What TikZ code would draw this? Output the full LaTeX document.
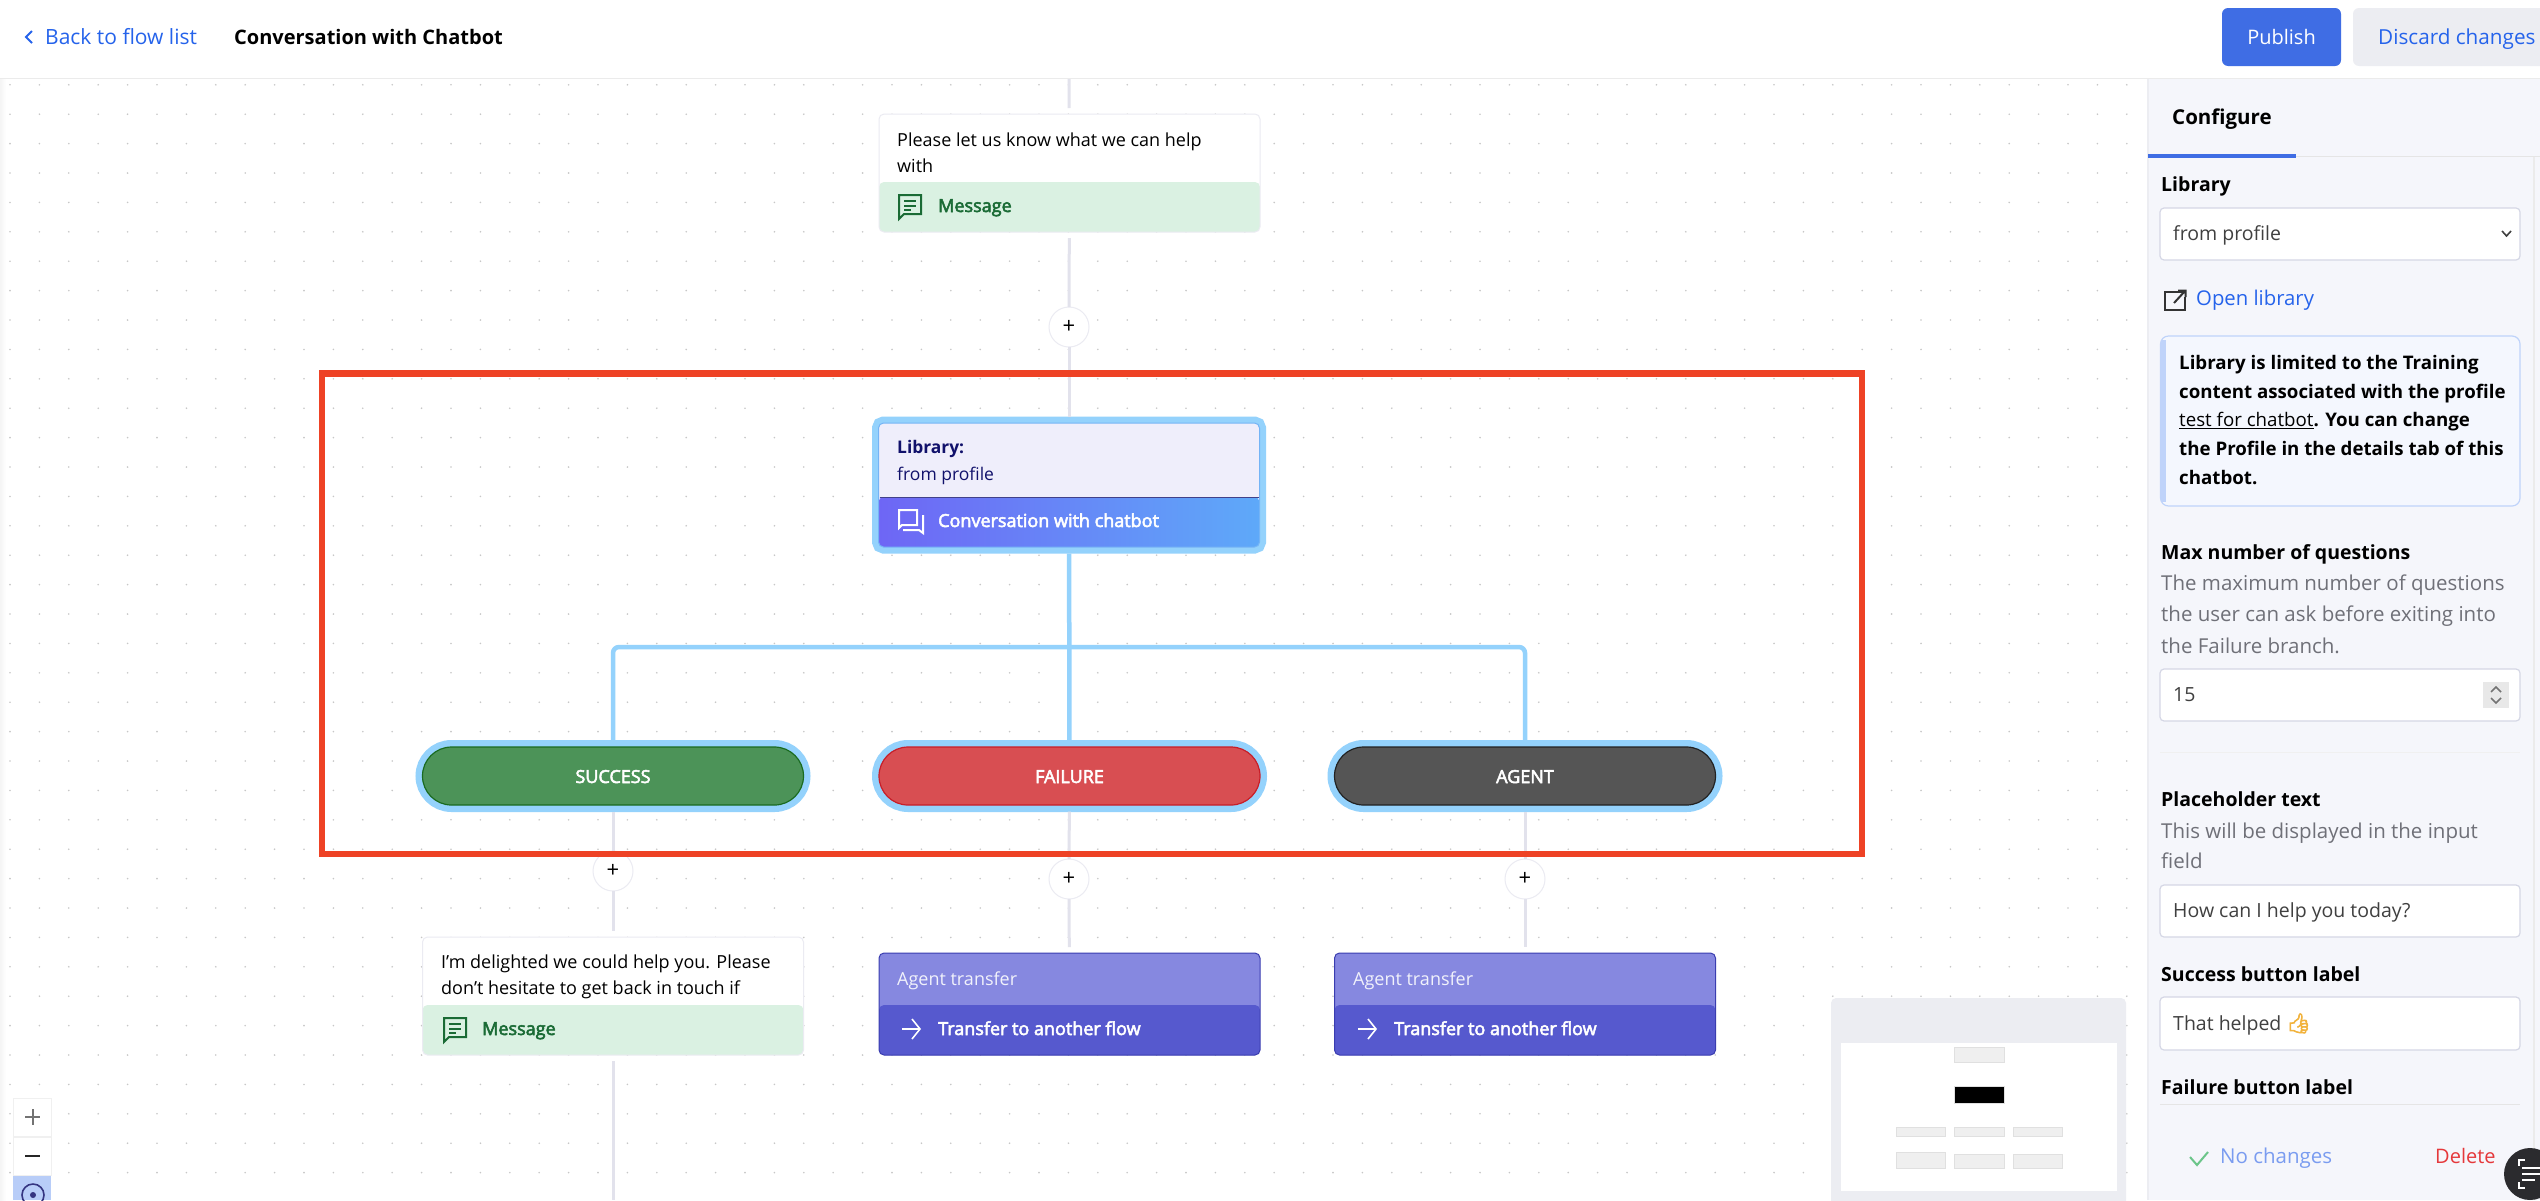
\documentclass[tikz,border=0pt]{standalone}
\usepackage{fontspec}
\setmainfont{Open Sans}
\newfontface\semifont{Open Sans}[FakeBold=3]
\newfontfamily\emojifont{Noto Emoji}[FakeBold=4]

\definecolor{flowgray}{HTML}{E2E2EC}
\definecolor{halo}{HTML}{94D2FC}
\definecolor{linkblue}{HTML}{2563EB}
\definecolor{btnblue}{HTML}{3F6DE4}
\definecolor{btngray}{HTML}{ECEDF2}
\definecolor{panelbg}{HTML}{F5F6FB}
\definecolor{fieldline}{HTML}{D5D7E5}
\definecolor{subgray}{HTML}{6F7078}
\definecolor{footgreen}{HTML}{DAF1E2}
\definecolor{textgreen}{HTML}{1A6B35}
\definecolor{libtop}{HTML}{EFEEFB}
\definecolor{libtext}{HTML}{11116B}
\definecolor{libleft}{HTML}{6E66F5}
\definecolor{libright}{HTML}{5EA9F9}
\definecolor{libedge}{HTML}{74B4F6}
\definecolor{pillgreen}{HTML}{4C9358}
\definecolor{pillgreenline}{HTML}{1A6B20}
\definecolor{pillred}{HTML}{D84E52}
\definecolor{pillredline}{HTML}{C81E28}
\definecolor{pilldark}{HTML}{555555}
\definecolor{pilldarkline}{HTML}{222222}
\definecolor{agenttop}{HTML}{8688E0}
\definecolor{agentfoot}{HTML}{5659CE}
\definecolor{agentline}{HTML}{3A3DB0}
\definecolor{markred}{HTML}{EE4225}
\definecolor{mapbox}{HTML}{EFEFEF}
\definecolor{zoomblue}{HTML}{B8CDF8}
\definecolor{infoline}{HTML}{BFD3FA}
\definecolor{infobg}{HTML}{F4F7FE}
\definecolor{thumbcolor}{HTML}{F2B33D}
\definecolor{okgreen}{HTML}{6CC58A}
\definecolor{nochangeblue}{HTML}{7A9CF0}
\definecolor{deletered}{HTML}{E5383B}
\definecolor{chatdark}{HTML}{2B2B2E}

\tikzset{
    flowline/.style={draw=flowgray,line width=3pt},
    branchline/.style={draw=halo,line width=4.5pt},
    footer/.style 2 args={path picture={\path[#1] ([yshift=#2]path picture bounding box.south west) rectangle (path picture bounding box.south east);}},
    cardbox/.style={rectangle,rounded corners=5pt,draw=#1,line width=1pt,fill=white,minimum width=381pt,outer sep=6pt},
    pillnode/.style 2 args={rectangle,rounded corners=29pt,fill=#1,draw=#2,line width=1.2pt,minimum width=381pt,minimum height=58pt,outer sep=6.5pt,preaction={draw=halo,line width=14pt}},
    plusnode/.style={circle,draw=flowgray!70,fill=white,line width=1pt,minimum size=40pt,inner sep=0pt,outer sep=0pt,font=\fontsize{22}{22}\selectfont},
    labeltext/.style={inner sep=0pt,anchor=base west,font=\fontsize{#1}{#1}\selectfont},
    cardtext/.style={inner sep=0pt,anchor=north west,align=left,font=\fontsize{18}{26}\selectfont},
    semitext/.style={inner sep=0pt,anchor=base west,text=#1,font=\fontsize{18}{18}\semifont},
    pilltext/.style={inner sep=0pt,anchor=base,text=white,font=\fontsize{18}{18}\semifont},
    headtext/.style={inner sep=0pt,anchor=base west,font=\fontsize{19.5}{20}\selectfont\bfseries},
    subtext/.style={inner sep=0pt,anchor=north west,align=left,text=subgray,font=\fontsize{20.5}{#1}\selectfont},
    fieldbox/.style={rectangle,rounded corners=4pt,draw=fieldline,line width=1.2pt,fill=white,minimum width=360pt,minimum height=#1,outer sep=0pt},
    fieldtext/.style={inner sep=0pt,anchor=base west,text=black!75,font=\fontsize{19.5}{20}\selectfont},
    mapnode/.style={rectangle,fill=#1,draw=black!12,line width=.8pt,inner sep=0pt,outer sep=0pt},
    msgicon/.pic={
        \draw[textgreen,line width=2pt] (-11,13) -- (-11,-11) -- (11,-11) -- (11,8) -- (-6,8) -- cycle;
        \draw[textgreen,line width=2pt] (-6,-5) -- (6,-5) (-6,-.5) -- (6,-.5) (-6,4) -- (1,4);
    },
    arrowicon/.pic={
        \draw[white,line width=1.6pt] (-9,0) -- (9,0) (1,-10) -- (9,0) -- (1,10);
    }
}

\begin{document}
\begin{tikzpicture}[x=1pt,y=-1pt]
    \useasboundingbox (0,0) rectangle (2540,1200);
    \clip (0,0) rectangle (2540,1200);

    % canvas and dots
    \fill[white] (0,0) rectangle (2540,1200);
    \shade[left color=black!4,right color=white] (0,78) rectangle (6,1200);
    \foreach \i in {0,...,72}
        \foreach \j in {0,...,38}
            \fill[black!22] (10+29.4*\i,84.8+29.4*\j) circle (.9);

    % flow nodes
    \node[cardbox=flowgray!70,minimum height=118pt,footer={fill=footgreen}{50pt}] (msgtop) at (1069.5,173) {};
    \node[plusnode] (plustop) at (1069,327) {+};
    \node[cardbox=libedge,minimum height=124pt,fill=libtop,outer sep=6.5pt,footer={left color=libleft,right color=libright}{50pt},preaction={draw=halo,line width=13pt}] (libnode) at (1069,485) {};
    \node[pillnode={pillgreen}{pillgreenline}] (successnode) at (613,776) {};
    \node[pillnode={pillred}{pillredline}] (failurenode) at (1069.5,776) {};
    \node[pillnode={pilldark}{pilldarkline}] (agentnode) at (1525,776) {};
    \node[plusnode] (plusone) at (613,871) {+};
    \node[plusnode] (plustwo) at (1069,879) {+};
    \node[plusnode] (plusthree) at (1525,879) {+};
    \node[cardbox=flowgray!70,minimum height=118pt,footer={fill=footgreen}{50pt}] (msgone) at (613,996) {};
    \node[cardbox=agentline,fill=agenttop,minimum height=102pt,footer={fill=agentfoot}{50pt}] (agentone) at (1069.5,1004) {};
    \node[cardbox=agentline,fill=agenttop,minimum height=102pt,footer={fill=agentfoot}{50pt}] (agenttwo) at (1525,1004) {};
    \draw[libtext!80,line width=1pt] (879.5,497.5) -- (1258.5,497.5);

    % connectors
    \coordinate (topstart) at (1069,78);
    \coordinate (hub) at (1069,647);
    \coordinate (endone) at (613,1200);
    \draw[flowline] (topstart) -- (msgtop);
    \draw[flowline] (msgtop) -- (plustop);
    \draw[flowline] (plustop) -- (libnode);
    \draw[branchline] (libnode) -- (failurenode);
    \draw[branchline,rounded corners=6pt] (hub) -| (successnode);
    \draw[branchline,rounded corners=6pt] (hub) -| (agentnode);
    \draw[flowline] (successnode) -- (plusone);
    \draw[flowline] (failurenode) -- (plustwo);
    \draw[flowline] (agentnode) -- (plusthree);
    \draw[flowline] (plusone) -- (msgone);
    \draw[flowline] (plustwo) -- (agentone);
    \draw[flowline] (plusthree) -- (agenttwo);
    \draw[flowline] (msgone) -- (endone);

    % card texts
    \node[cardtext] (msgtoptext) at (897,132.5) {Please let us know what we can help\\with};
    \pic at (910,206) {msgicon};
    \node[semitext=textgreen] (msgtoplabel) at (938,212) {Message};
    \node[inner sep=0pt,anchor=base west,text=libtext,font=\fontsize{17.4}{18}\selectfont\bfseries] (libhead) at (897,453) {Library:};
    \node[labeltext=17.5,text=libtext] (libvalue) at (897,480) {from profile};
    \draw[white,line width=2pt] (899,528) -- (899,510) -- (917,510) -- (917,525) -- (902,525) -- cycle;
    \draw[white,line width=2pt] (903,530) -- (919,530) -- (923,533) -- (923,515);
    \node[semitext=white] (liblabel) at (938,527) {Conversation with chatbot};
    \node[pilltext] (successtext) at (613,783) {SUCCESS};
    \node[pilltext] (failuretext) at (1069.5,783) {FAILURE};
    \node[pilltext] (agenttext) at (1525,783) {AGENT};
    \node[cardtext] (msgonetext) at (441,955) {I'm delighted we could help you. Please\\don't hesitate to get back in touch if};
    \pic at (455,1029) {msgicon};
    \node[semitext=textgreen] (msgonelabel) at (482,1035) {Message};
    \node[labeltext=18,text=white!92!agentfoot] (agentonehead) at (897,985) {Agent transfer};
    \pic at (911,1029) {arrowicon};
    \node[semitext=white] (agentonelabel) at (938,1035) {Transfer to another flow};
    \node[labeltext=18,text=white!92!agentfoot] (agenttwohead) at (1353,985) {Agent transfer};
    \pic at (1367,1029) {arrowicon};
    \node[semitext=white] (agenttwolabel) at (1394,1035) {Transfer to another flow};

    % red frame
    \draw[markred,line width=6.5pt] (322,373.5) rectangle (1862,854);

    % zoom control
    \draw[black!6,fill=white] (13,1098) rectangle (51,1136);
    \draw[black!6,fill=white] (13,1137) rectangle (51,1175);
    \fill[zoomblue] (13,1176) rectangle (51,1200);
    \draw[black!55,line width=2pt] (25,1117) -- (40,1117) (32.5,1109) -- (32.5,1125);
    \draw[black!85,line width=2pt] (25,1156) -- (40,1156);
    \draw[libtext!85,line width=1.6pt] (33,1195) circle (11);
    \fill[libtext!85] (33,1195) circle (3);

    % minimap
    \fill[btngray,rounded corners=5pt] (1831,998) rectangle (2126,1230);
    \fill[white] (1841,1043) rectangle (2117,1191);
    \node[mapnode=mapbox,minimum width=50pt,minimum height=15pt] (maptop) at (1979,1054.5) {};
    \node[mapnode=black,minimum width=50pt,minimum height=17pt] (mapmain) at (1979,1094.5) {};
    \node[mapnode=mapbox,minimum width=49pt,minimum height=9pt] (mapa) at (1920.5,1131.5) {};
    \node[mapnode=mapbox,minimum width=50pt,minimum height=9pt] (mapb) at (1979,1131.5) {};
    \node[mapnode=mapbox,minimum width=49pt,minimum height=9pt] (mapc) at (2037.5,1131.5) {};
    \node[mapnode=mapbox,minimum width=49pt,minimum height=16pt] (mapd) at (1920.5,1160) {};
    \node[mapnode=mapbox,minimum width=50pt,minimum height=14pt] (mape) at (1979,1161) {};
    \node[mapnode=mapbox,minimum width=49pt,minimum height=14pt] (mapf) at (2037.5,1161) {};

    % config panel
    \fill[panelbg] (2148,78) rectangle (2540,1200);
    \draw[btngray,line width=2pt] (2148,78) -- (2148,1200);
    \draw[black!10,line width=1pt] (2148,156.5) -- (2540,156.5);
    \draw[black!8,line width=2pt] (2534,157) -- (2534,1200);
    \draw[btnblue,line width=3.5pt] (2148,156) -- (2296,156);
    \node[headtext,font=\fontsize{20.5}{21}\selectfont\bfseries] (configtext) at (2172,124) {Configure};

    \node[headtext] (librarytext) at (2161,191.5) {Library};
    \node[fieldbox=52pt] (libraryfield) at (2340,234) {};
    \node[fieldtext] (libraryvalue) at (2173,240.5) {from profile};
    \draw[black!75,line width=1.6pt] (2502,231) -- (2506.5,236) -- (2511,231);
    \draw[black!80,line width=2pt] (2184,292) -- (2165,292) -- (2165,310) -- (2185,310) -- (2185,297);
    \draw[black!80,line width=2pt] (2174,303) -- (2185,291) (2178,290.5) -- (2185.5,290.5) -- (2185.5,297);
    \node[labeltext=20.3,text=linkblue] (opentext) at (2196,305) {Open library};

    \draw[infoline,line width=1.2pt,fill=infobg,rounded corners=8pt] (2160.5,336) rectangle (2520,506);
    \draw[infoline,line width=5pt,rounded corners=4pt] (2163,340) -- (2163,502);
    \node[inner sep=0pt,anchor=north west,align=left,font=\fontsize{18.7}{28.7}\selectfont\bfseries] (infotext) at (2179,355) {Library is limited to the Training\\content associated with the profile\\\underline{\normalfont test for chatbot}. You can change\\the Profile in the details tab of this\\chatbot.};

    \node[headtext] (maxtext) at (2161,559) {Max number of questions};
    \node[subtext=31.5] (maxsub) at (2161,574.5) {The maximum number of questions\\the user can ask before exiting into\\the Failure branch.};
    \node[fieldbox=52pt] (maxfield) at (2340,695) {};
    \node[fieldtext] (maxvalue) at (2173,701) {15};
    \fill[black!9] (2483,682) rectangle (2509,708);
    \draw[black!55,line width=1.5pt] (2491,692) -- (2496,687) -- (2501,692) (2491,698) -- (2496,703) -- (2501,698);
    \draw[black!6,line width=1pt] (2160,752) -- (2520,752);

    \node[headtext] (placetext) at (2161,806.5) {Placeholder text};
    \node[subtext=30.5] (placesub) at (2161,822.5) {This will be displayed in the input\\field};
    \node[fieldbox=52pt] (placefield) at (2340,911) {};
    \node[fieldtext] (placevalue) at (2173,917) {How can I help you today?};

    \node[headtext] (successlabel) at (2161,981.5) {Success button label};
    \node[fieldbox=53pt] (successfield) at (2340,1023.5) {};
    \node[fieldtext] (successvalue) at (2173,1030) {That helped {\emojifont\textcolor{thumbcolor}{👍}}};

    \node[headtext] (failurelabel) at (2161,1094) {Failure button label};
    \draw[black!10,line width=1pt] (2160,1104) -- (2520,1104);
    \draw[okgreen,line width=2pt] (2190,1157) -- (2197,1165) -- (2208,1152);
    \node[labeltext=20.5,text=nochangeblue] (nochange) at (2220,1163) {No changes};
    \node[labeltext=20,text=deletered] (deletetext) at (2435,1163) {Delete};
    \fill[chatdark] (2530,1174) circle (26);
    \draw[white,line width=2pt] (2519,1166) -- (2519,1160) -- (2525,1160) (2519,1182) -- (2519,1188) -- (2525,1188);
    \draw[white,line width=2pt] (2522,1168) -- (2540,1168) (2522,1174) -- (2540,1174) (2522,1180) -- (2535,1180);

    % header
    \fill[white] (0,0) rectangle (2540,78);
    \draw[black!8,line width=1pt] (0,78.5) -- (2540,78.5);
    \draw[linkblue,line width=1.8pt] (32,31) -- (26,37) -- (32,43);
    \node[labeltext=21,text=linkblue] (backtext) at (45,44) {Back to flow list};
    \node[inner sep=0pt,anchor=base west,font=\fontsize{20}{20}\selectfont\bfseries] (titletext) at (234,44) {Conversation with Chatbot};
    \node[rectangle,rounded corners=6pt,fill=btnblue,text=white,minimum width=119pt,minimum height=58pt,font=\fontsize{20}{20}\selectfont] (publishbtn) at (2281.5,37) {Publish};
    \node[rectangle,rounded corners=6pt,fill=btngray,minimum width=220pt,minimum height=58pt] (discardbtn) at (2463,37) {};
    \node[labeltext=20.7,text=linkblue] (discardtext) at (2378,44) {Discard changes};
\end{tikzpicture}
\end{document}
